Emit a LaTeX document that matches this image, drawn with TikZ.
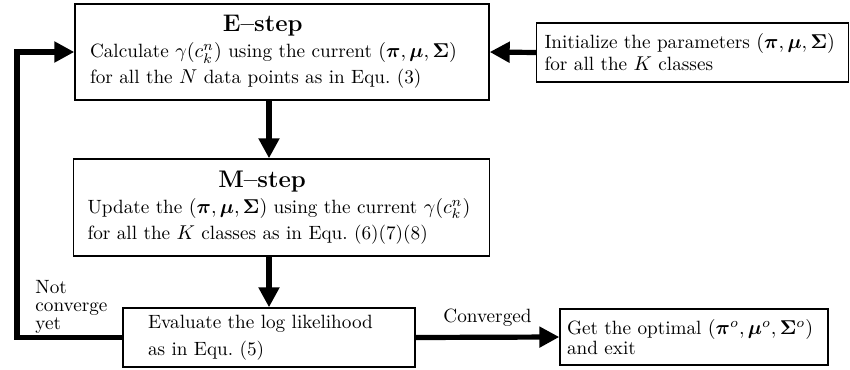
\documentclass[tikz,border=0pt]{standalone}
\usepackage{amsmath, amssymb, bm}
\usetikzlibrary{arrows.meta, positioning, calc}

\begin{document}
\begin{tikzpicture}[x=0.5pt, y=-0.5pt,
  stepbox/.style={draw, line width=0.7pt, align=left, inner ysep=3pt, font=\fontsize{9.6}{13}\selectfont},
  flow/.style={line width=2.6pt, -{Triangle[length=10pt, width=10pt]}},
  lbl/.style={align=left, inner sep=0pt, font=\fontsize{9.6}{9}\selectfont}]
  \useasboundingbox (0,0) rectangle (850,369);

  % the three steps of the loop
  \node[stepbox, text width=192pt, inner xsep=7.5pt, minimum height=48pt] (estep) at (282,52) {
    \makebox[0.9\linewidth]{\large\textbf{E--step}}\\
    Calculate $\gamma(c_k^n)$ using the current $(\bm{\pi},\bm{\mu},\bm{\Sigma})$\\
    for all the $N$ data points as in Equ.~(3)
  };
  \node[stepbox, text width=148pt, inner xsep=4pt, minimum height=29.5pt, font=\fontsize{9.6}{11}\selectfont] (init) at (692.5,52.5) {
    Initialize the parameters $(\bm{\pi},\bm{\mu},\bm{\Sigma})$\\
    for all the $K$ classes
  };
  \node[stepbox, text width=194pt, inner xsep=7pt, minimum height=48.5pt] (mstep) at (281.5,207.5) {
    \makebox[0.9\linewidth]{\large\textbf{M--step}}\\
    Update the $(\bm{\pi},\bm{\mu},\bm{\Sigma})$ using the current $\gamma(c_k^n)$\\
    for all the $K$ classes as in Equ.~(6)(7)(8)
  };
  \node[stepbox, text width=121pt, inner xsep=12.5pt, minimum height=29.5pt, font=\fontsize{9.6}{13.5}\selectfont] (eval) at (269,337.5) {
    Evaluate the log likelihood\\
    as in Equ.~(5)
  };
  \node[stepbox, text width=127pt, inner xsep=3.5pt, minimum height=28pt, font=\fontsize{9.6}{10}\selectfont] (final) at (694,337) {
    Get the optimal $(\bm{\pi}^o,\bm{\mu}^o,\bm{\Sigma}^o)$\\
    and exit
  };

  % connectors
  \draw[flow] (init.west) -- (estep.east);
  \draw[flow] (estep.south -| eval.north) -- (mstep.north -| eval.north);
  \draw[flow] (mstep.south -| eval.north) -- (eval.north);
  \draw[flow] (eval.east) -- node[above=1pt, font=\fontsize{9.6}{11}\selectfont] (conv) {Converged} (final.west);
  \coordinate (back) at (17,52);
  \draw[flow] (eval.west) -| (back) -- (estep.west);
  \node[lbl, anchor=north west] (notconv) at (35,280) {Not\\converge\\yet};
\end{tikzpicture}
\end{document}
